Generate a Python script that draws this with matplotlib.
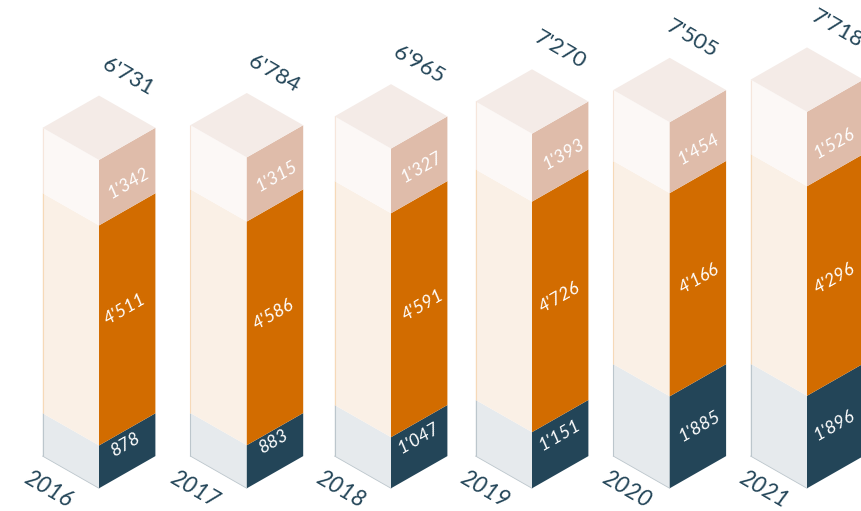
import numpy as np
import matplotlib
matplotlib.use('Agg')
import matplotlib.pyplot as plt
from matplotlib.patches import Polygon

years = ['2016', '2017', '2018', '2019', '2020', '2021']
bottom_vals = [878, 883, 1047, 1151, 1885, 1896]
middle_vals = [4511, 4586, 4591, 4726, 4166, 4296]
top_vals = [1342, 1315, 1327, 1393, 1454, 1526]
totals = [6731, 6784, 6965, 7270, 7505, 7718]


def fmt(v):
    # swiss thousands separator
    return f'{v:,}'.replace(',', "'")


# layout, in pixels of the 861x511 canvas
W, H = 861, 511
centers = [99, 246.8, 391, 532, 669.7, 807]
half_w = 56.4
base_y = 488.3
px_per_unit = 0.04878
rise = 32.2 / px_per_unit  # isometric rise of a half width, in value units

# hand placed nudges for the labels, px, rows are bottom / middle / top segment
label_dx = [[-1.6, -1.4, -1.2, -0.7, 1.1, -1.2],
            [-2.2, -2.1, 3.6, -0.7, 1.1, -1.3],
            [1.6, 1.6, 1.7, 2.8, 0.0, -0.9]]
label_dy = [[-5.8, -9.0, -8.4, -8.4, 0.0, -0.6],
            [-10.0, -2.3, -4.2, -3.3, 0.0, 4.0],
            [6.7, 2.9, 2.9, 2.4, 7.4, 10.4]]
total_dx = [29, 27, 28, 28, 22, 30]
year_dx = [-51, -52, -50, -47, -43, -43]

right_cols = ['#234558', '#d26c00', '#dfbcaa']
left_cols = ['#e6eaed', '#faf0e6', '#fcf8f6']
edge_cols = ['#bcc6cc', '#f6d9b8', '#f6e6dc']
top_col = '#f4ebe7'
text_dark = '#234558'

plt.rcParams['font.family'] = ['Lato', 'DejaVu Sans']

fig = plt.figure(figsize=(W / 100, H / 100), dpi=100)
ax = fig.add_axes([0, 0, 1, 1])
ax.set_xlim(0, W)
ax.set_ylim(-(H - base_y) / px_per_unit, base_y / px_per_unit)
ax.axis('off')

for i, cx in enumerate(centers):
    stack = np.array([bottom_vals[i], middle_vals[i], top_vals[i]])
    tops = np.cumsum(stack)
    lows = tops - stack
    xl, xr = cx - half_w, cx + half_w

    for j in range(3):
        # left face
        ax.add_patch(Polygon([(xl, lows[j] + rise), (cx, lows[j]), (cx, tops[j]), (xl, tops[j] + rise)],
                             closed=True, fc=left_cols[j], ec='none', lw=0))
        ax.plot([xl, xl], [lows[j] + rise, tops[j] + rise], color=edge_cols[j], lw=0.8, solid_capstyle='butt')
        # right face
        ax.add_patch(Polygon([(cx, lows[j]), (xr, lows[j] + rise), (xr, tops[j] + rise), (cx, tops[j])],
                             closed=True, fc=right_cols[j], ec='none', lw=0))
        # label on the right face
        ax.text(cx + half_w / 2 + label_dx[j][i],
                (lows[j] + tops[j]) / 2 + rise / 2 - label_dy[j][i] / px_per_unit,
                fmt(stack[j]), color='white', fontsize=13, style='italic',
                rotation=30, rotation_mode='anchor', ha='center', va='center')

    ax.plot([xl, cx], [rise, 0], color=edge_cols[0], lw=0.6)

    # lid
    t = tops[-1]
    ax.add_patch(Polygon([(xl, t + rise), (cx, t), (xr, t + rise), (cx, t + 2 * rise)],
                         closed=True, fc=top_col, ec='none', lw=0))

    ax.text(cx + total_dx[i], t + 2 * rise + 19 / px_per_unit, fmt(totals[i]), color=text_dark, fontsize=16,
            rotation=-30, rotation_mode='anchor', ha='center', va='center')
    ax.text(cx + year_dx[i], -1 / px_per_unit, years[i], color=text_dark, fontsize=16.5, style='italic',
            rotation=-30, rotation_mode='anchor', ha='center', va='center')

fig.savefig('out.png', dpi=100)
